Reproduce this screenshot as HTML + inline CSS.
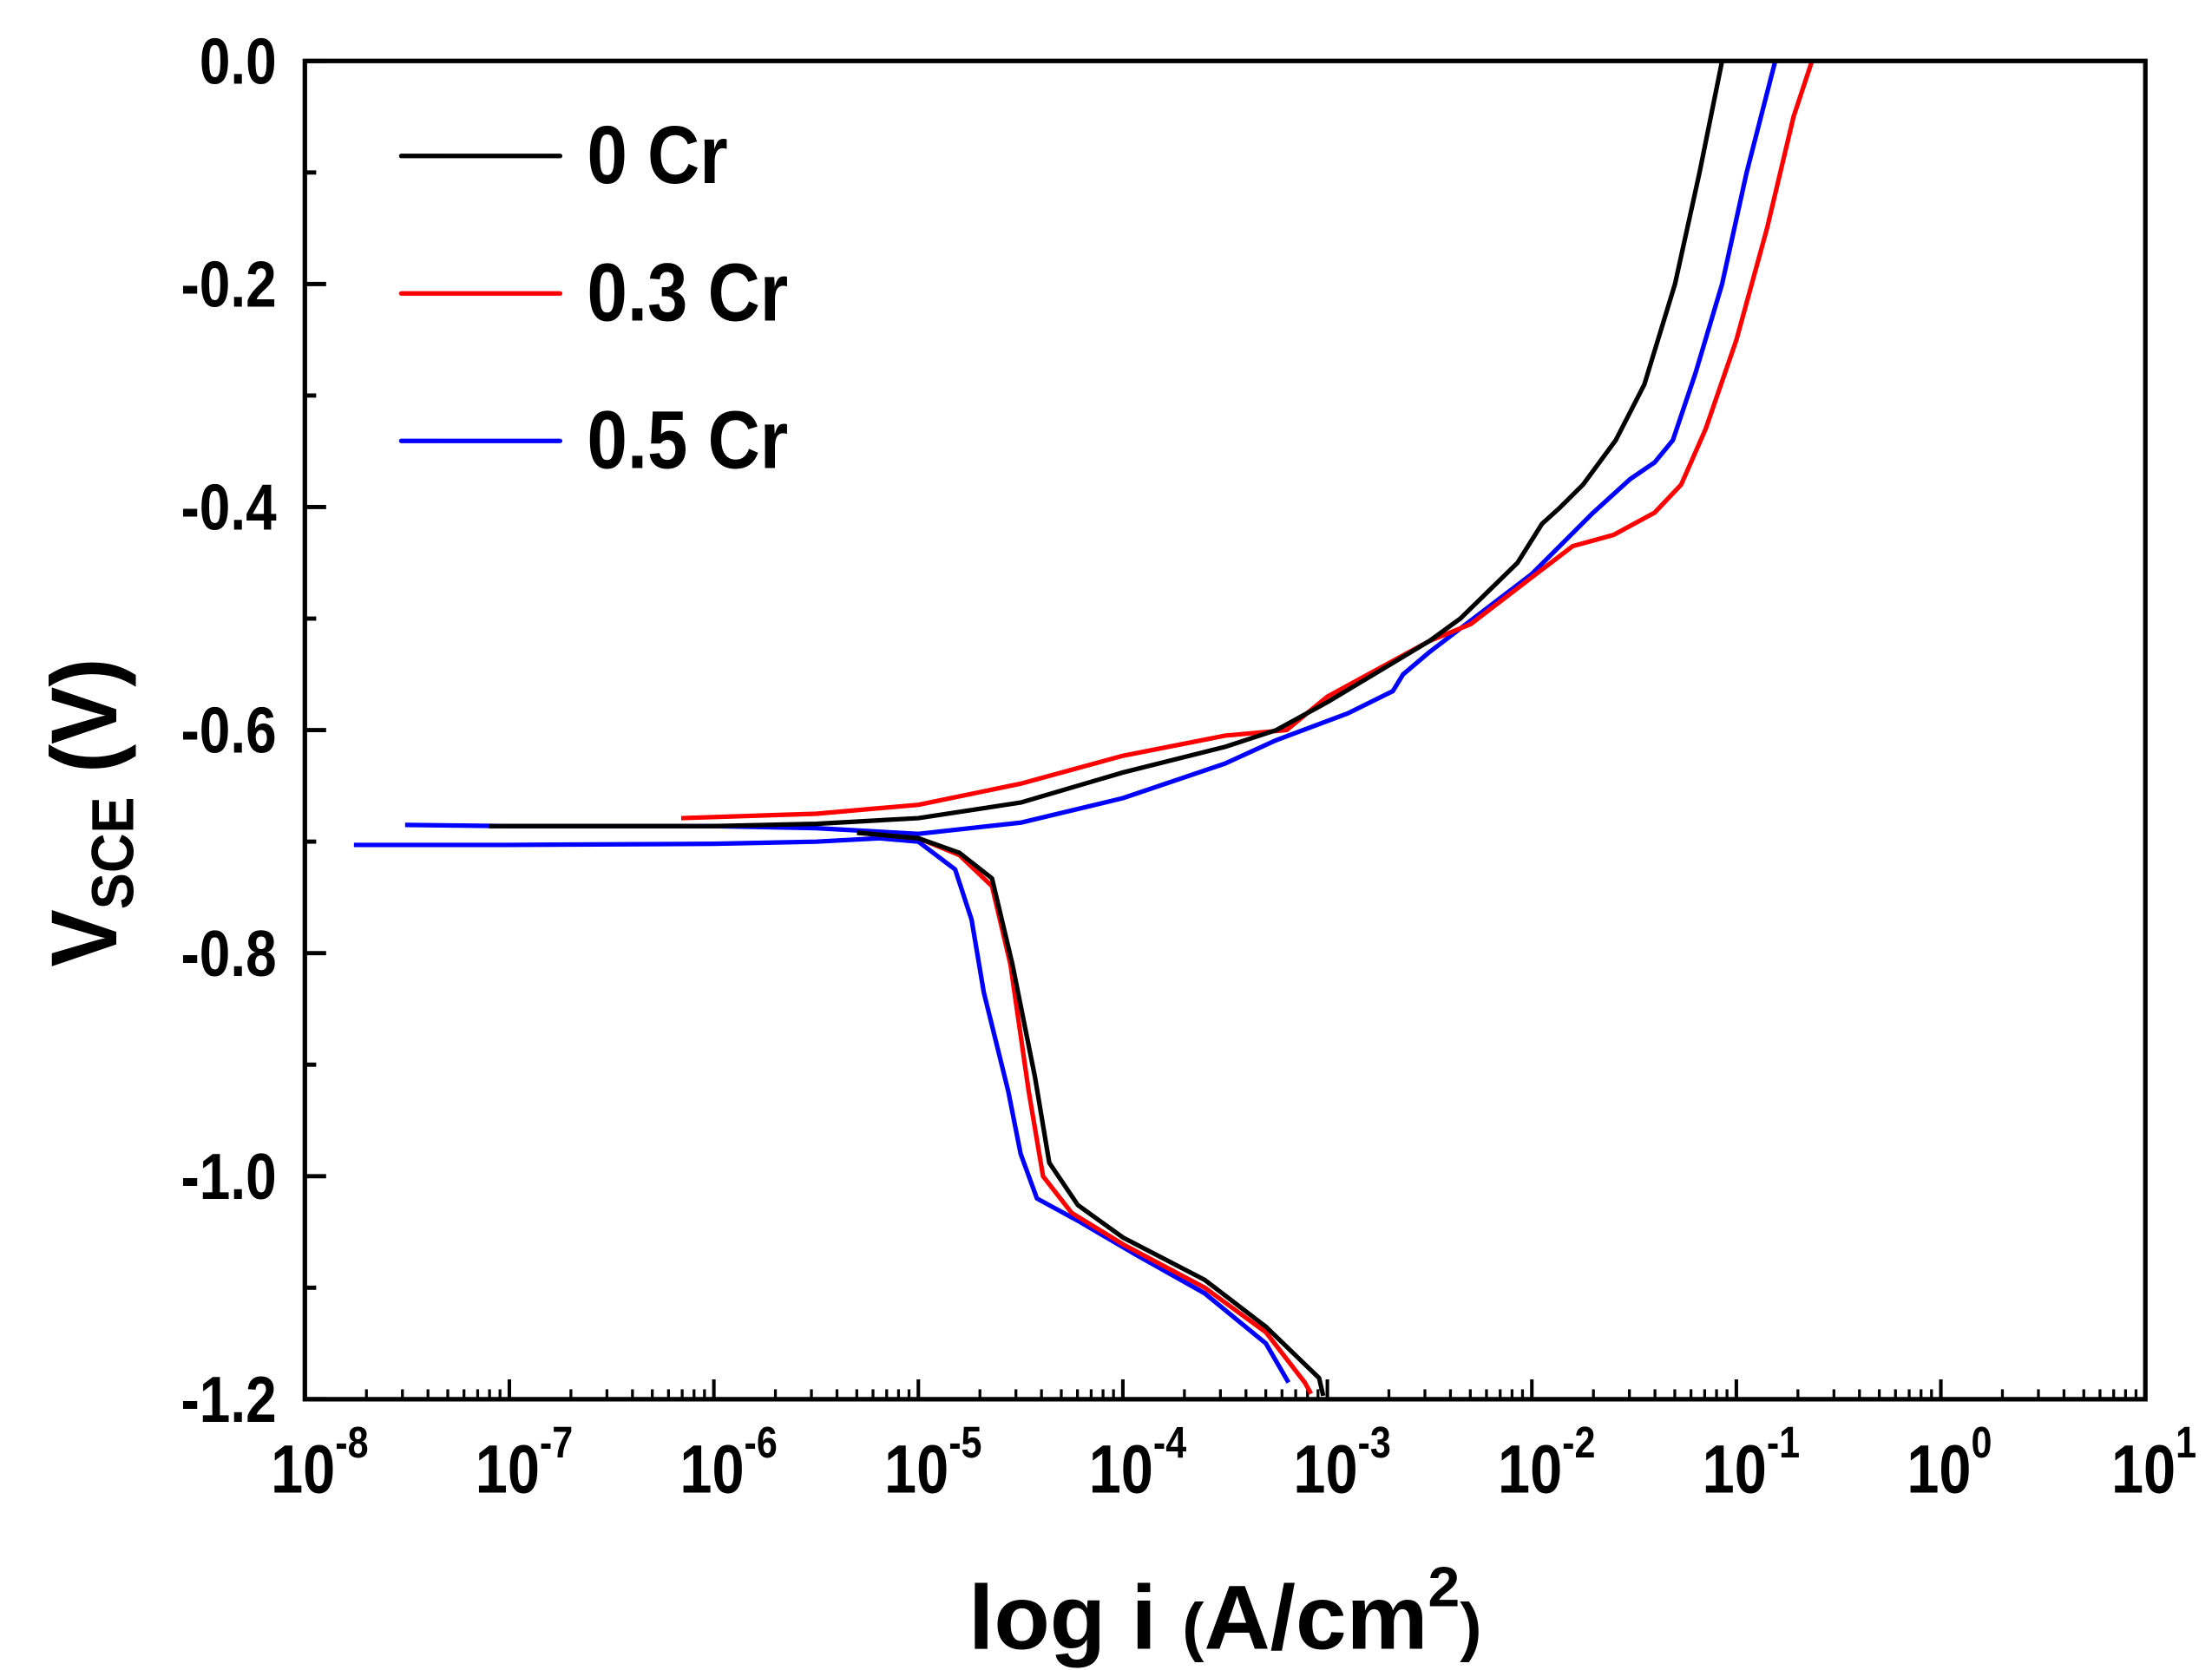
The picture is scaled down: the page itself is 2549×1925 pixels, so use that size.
<!DOCTYPE html>
<html><head><meta charset="utf-8"><style>
html,body{margin:0;padding:0;background:#fff}
svg{display:block}
text{font-family:"Liberation Sans",Arial,sans-serif;font-weight:bold;fill:#000}
</style></head><body>
<svg id="chart" width="2549" height="1925" viewBox="0 0 1560 1178" preserveAspectRatio="none" xmlns="http://www.w3.org/2000/svg">
<g id="ticks"></g>
<g id="series"></g>
<rect x="215" y="43" width="1298" height="944" fill="none" stroke="#000" stroke-width="3.2"/>
<g id="labels"></g>
<text x="683" y="1163" font-size="64" textLength="362" lengthAdjust="spacingAndGlyphs">log i <tspan font-size="46">(</tspan>A/cm<tspan font-size="40" dy="-30">2</tspan><tspan font-size="46" dy="30">)</tspan></text>
<text transform="translate(82,682) rotate(-90) scale(0.92,1)" font-size="66">V<tspan font-size="42" dy="12">SCE</tspan><tspan dy="-12"> (V)</tspan></text>
<g>
<line x1="283" y1="110" x2="395" y2="110" stroke="#000" stroke-width="3.2" stroke-linecap="round"/>
<text transform="translate(414,129) scale(0.88,1)" font-size="58">0 Cr</text>
<line x1="283" y1="207" x2="395" y2="207" stroke="#f00" stroke-width="3.2" stroke-linecap="round"/>
<text transform="translate(414,226) scale(0.88,1)" font-size="58">0.3 Cr</text>
<line x1="283" y1="311" x2="395" y2="311" stroke="#00f" stroke-width="3.2" stroke-linecap="round"/>
<text transform="translate(414,330) scale(0.88,1)" font-size="58">0.5 Cr</text>
</g>
</svg>
<script>
const xDecades=[-8,-7,-6,-5,-4,-3,-2,-1,0,1];
const yTicks=[0,-0.2,-0.4,-0.6,-0.8,-1.0,-1.2];
const yTickLabels=["0.0","-0.2","-0.4","-0.6","-0.8","-1.0","-1.2"];
const blackLogI=[-7.1,-6,-5.5,-5,-4.5,-4,-3.5,-3.25,-3,-2.5,-2.35,-2.07,-1.95,-1.86,-1.75,-1.59,-1.45,-1.3,-1.18,-1.07];
const blackE=[-0.686,-0.686,-0.684,-0.679,-0.665,-0.638,-0.615,-0.6,-0.575,-0.52,-0.5,-0.45,-0.415,-0.4,-0.38,-0.34,-0.29,-0.2,-0.1,0];
const blackCathLogI=[-5.3,-5.0,-4.8,-4.64,-4.54,-4.43,-4.36,-4.22,-4.0,-3.6,-3.3,-3.04,-3.02];
const blackCathE=[-0.692,-0.697,-0.71,-0.733,-0.81,-0.911,-0.988,-1.026,-1.055,-1.093,-1.135,-1.181,-1.197];
const redLogI=[-6.16,-5.5,-5,-4.5,-4,-3.5,-3.2,-3,-2.5,-2.3,-2,-1.8,-1.6,-1.4,-1.27,-1.15,-1.0,-0.85,-0.72,-0.63];
const redE=[-0.679,-0.675,-0.667,-0.648,-0.623,-0.605,-0.6,-0.57,-0.52,-0.505,-0.463,-0.435,-0.425,-0.405,-0.38,-0.33,-0.25,-0.15,-0.05,0];
const redCathLogI=[-5.3,-5.0,-4.8,-4.64,-4.55,-4.46,-4.39,-4.25,-4.0,-3.6,-3.3,-3.11,-3.08];
const redCathE=[-0.692,-0.697,-0.712,-0.74,-0.81,-0.924,-1.0,-1.033,-1.061,-1.1,-1.14,-1.185,-1.195];
const blueLogI=[-7.51,-7,-6,-5.5,-5,-4.5,-4,-3.5,-3.25,-2.9,-2.68,-2.63,-2.5,-2,-1.7,-1.52,-1.4,-1.31,-1.2,-1.07,-0.95,-0.81];
const blueE=[-0.685,-0.686,-0.686,-0.688,-0.693,-0.683,-0.661,-0.63,-0.609,-0.585,-0.565,-0.55,-0.53,-0.46,-0.405,-0.375,-0.36,-0.34,-0.28,-0.2,-0.1,0];
const blueCathLogI=[-7.76,-7,-6,-5.5,-5.19,-5.0,-4.82,-4.74,-4.68,-4.56,-4.5,-4.42,-4.22,-3.94,-3.6,-3.3,-3.19];
const blueCathE=[-0.703,-0.703,-0.702,-0.7,-0.697,-0.7,-0.725,-0.77,-0.835,-0.924,-0.98,-1.02,-1.04,-1.07,-1.105,-1.15,-1.185];
const NS="http://www.w3.org/2000/svg";
const X0=215,X1=1513,Y0=43,Y1=987;
function xs(l){return X0+(l-(-8))/9*(X1-X0);}
function ys(e){return Y0+(0-e)/1.2*(Y1-Y0);}
const tg=document.getElementById('ticks'),lg=document.getElementById('labels'),sg=document.getElementById('series');
function mk(tag,attrs,parent){const e=document.createElementNS(NS,tag);for(const k in attrs)e.setAttribute(k,attrs[k]);parent.appendChild(e);return e;}
xDecades.forEach((d,i)=>{
  const x=xs(d);
  const t=mk('line',{x1:x,x2:x,y1:Y1,y2:Y1-14,stroke:'#000','stroke-width':2.5},tg);
  
  
  if(i<xDecades.length-1){for(let m=2;m<=9;m++){const xm=xs(d+Math.log10(m));
    const mt=mk('line',{x1:xm,x2:xm,y1:Y1,y2:Y1-7,stroke:'#000','stroke-width':2},tg);
    
    }}
  const tx=mk('text',{transform:'translate('+(x-24)+',1053) scale(0.85,1)','font-size':48},lg);
  
  
  tx.innerHTML='10<tspan font-size="31" dy="-25">'+d+'</tspan>';
});
yTicks.forEach((v,i)=>{
  const y=ys(v);
  const t=mk('line',{x1:X0,x2:X0+15,y1:y,y2:y,stroke:'#000','stroke-width':3},tg);
  
  
  if(i<yTicks.length-1){const ym=ys(v-0.1);
    const mt=mk('line',{x1:X0,x2:X0+8,y1:ym,y2:ym,stroke:'#000','stroke-width':3},tg);
    
    }
  const tx=mk('text',{transform:'translate(195,'+(y+16)+') scale(0.85,1)','font-size':46,'text-anchor':'end'},lg);
  
  
  tx.textContent=yTickLabels[i];
});
function draw(L,E,color,name){
  const d=L.map((l,i)=>(i?'L':'M')+xs(l).toFixed(1)+','+ys(E[i]).toFixed(1)).join(' ');
  const p=mk('path',{d:d,fill:'none',stroke:color,'stroke-width':3.2,'stroke-linejoin':'round'},sg);
  
  
}
draw(blueLogI,blueE,'#00f','series-05cr-anodic');
draw(blueCathLogI,blueCathE,'#00f','series-05cr-cathodic');
draw(redLogI,redE,'#f00','series-03cr-anodic');
draw(redCathLogI,redCathE,'#f00','series-03cr-cathodic');
draw(blackLogI,blackE,'#000','series-0cr-anodic');
draw(blackCathLogI,blackCathE,'#000','series-0cr-cathodic');
</script>
</body></html>
